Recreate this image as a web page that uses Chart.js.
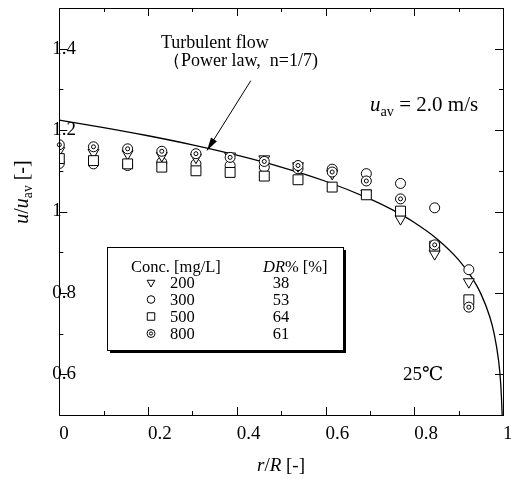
<!DOCTYPE html>
<html>
<head>
<meta charset="utf-8">
<script src="https://cdn.jsdelivr.net/npm/chart.js@4.4.1/dist/chart.umd.min.js"></script>
<style>
  html, body { margin: 0; padding: 0; background: #fff; }
  #wrap { width: 511px; height: 479px; }
</style>
</head>
<body>
<div id="wrap"><canvas id="chart" width="511" height="479"></canvas></div>
<script>
// radial positions r/R of the measuring points
const rPos = [0, 0.077, 0.154, 0.231, 0.308, 0.385, 0.462, 0.538, 0.615, 0.692, 0.769, 0.846, 0.923];
// u/uav for each concentration
const u200 = [1.150, 1.145, 1.142, 1.137, 1.133, 1.136, 1.129, 1.112, 1.093, 1.045, 0.982, 0.896, 0.827];
const u300 = [1.118, 1.117, 1.113, 1.121, 1.117, 1.113, 1.109, 1.105, 1.104, 1.093, 1.069, 1.009, 0.857];
const u500 = [1.130, 1.125, 1.117, 1.109, 1.100, 1.096, 1.087, 1.078, 1.060, 1.041, 1.001, 0.915, 0.783];
const u800 = [1.164, 1.159, 1.154, 1.148, 1.142, 1.133, 1.123, 1.113, 1.097, 1.075, 1.031, 0.918, 0.765];
// turbulent power law profile (n = 1/7)
const curveR = [0, 0.1, 0.2, 0.3, 0.4, 0.5, 0.6, 0.7, 0.75, 0.8, 0.85, 0.9, 0.93, 0.95, 0.97, 0.98, 0.99, 0.995, 0.998, 0.9985];
const curveU = [1.2245, 1.2062, 1.1861, 1.1637, 1.1383, 1.1091, 1.0743, 1.0310, 1.0045, 0.9730, 0.9338, 0.8813, 0.8375, 0.7982, 0.7420, 0.7002, 0.6342, 0.5745, 0.5040, 0.4837];
// legend table
const concLabels = ['200', '300', '500', '800'];
const drLabels = ['38', '53', '64', '61'];

const serif = '"Liberation Serif", "DejaVu Serif", serif';
const fnt = (size, italic) => (italic ? 'italic ' : '') + size + 'px ' + serif;

// marker shapes: the last one (800 mg/L) gets an inner ring drawn by the plugin
const markers = [
  { pointStyle: 'triangle', radius: 6.3, rotation: 180, small: 4.5 },
  { pointStyle: 'circle', radius: 5, rotation: 0, small: 3.8 },
  { pointStyle: 'rect', radius: 7, rotation: 0, small: 5.3 },
  { pointStyle: 'circle', radius: 5, rotation: 0, small: 4, inner: 2 }
];

const pts = ys => rPos.map((x, i) => ({ x, y: ys[i] }));

// text made of italic / plain / subscript pieces
function drawRich(ctx, parts, x, y, size, align) {
  let w = 0;
  const segs = parts.map(([t, s]) => {
    const sz = s === 's' ? size * 0.68 : size;
    ctx.font = fnt(sz, s === 'i');
    const m = ctx.measureText(t).width;
    w += m;
    return { t, s, sz, m };
  });
  let cx = align === 'center' ? x - w / 2 : align === 'right' ? x - w : x;
  ctx.textAlign = 'left';
  ctx.textBaseline = 'alphabetic';
  segs.forEach(seg => {
    ctx.font = fnt(seg.sz, seg.s === 'i');
    ctx.fillText(seg.t, cx, y + (seg.s === 's' ? size * 0.22 : 0));
    cx += seg.m;
  });
}

const isMajor = v => Math.round(v * 10) % 2 === 0;
const tickFmt = v => (isMajor(v) ? String(Math.round(v * 10) / 10) : '');

const decor = {
  id: 'decor',
  afterDatasetDraw(chart, args) {
    const ds = chart.data.datasets[args.index];
    if (!ds.innerRing) return;
    const ctx = chart.ctx;
    ctx.save();
    ctx.strokeStyle = '#000';
    ctx.lineWidth = 1;
    args.meta.data.forEach(el => {
      ctx.beginPath();
      ctx.arc(el.x, el.y, ds.innerRing, 0, Math.PI * 2);
      ctx.stroke();
    });
    ctx.restore();
  },
  afterDraw(chart) {
    const { ctx, chartArea: a, scales: { x, y } } = chart;
    ctx.save();
    ctx.strokeStyle = '#000';
    ctx.fillStyle = '#000';
    ctx.lineWidth = 1;

    // frame
    ctx.strokeRect(Math.round(a.left) + 0.5, Math.round(a.top) + 0.5,
      Math.round(a.right) - Math.round(a.left), Math.round(a.bottom) - Math.round(a.top));

    // inward ticks on all four sides
    ctx.beginPath();
    x.ticks.forEach(t => {
      const p = Math.round(x.getPixelForValue(t.value)) + 0.5;
      if (p < a.left + 2 || p > a.right - 2) return;
      const len = isMajor(t.value) ? 8 : 4;
      ctx.moveTo(p, a.bottom); ctx.lineTo(p, a.bottom - len);
      ctx.moveTo(p, a.top); ctx.lineTo(p, a.top + len);
    });
    y.ticks.forEach(t => {
      const p = Math.round(y.getPixelForValue(t.value)) + 0.5;
      if (p < a.top + 2 || p > a.bottom - 2) return;
      const len = isMajor(t.value) ? 8 : 4;
      ctx.moveTo(a.left, p); ctx.lineTo(a.left + len, p);
      ctx.moveTo(a.right, p); ctx.lineTo(a.right - len, p);
    });
    ctx.stroke();

    // axis titles
    drawRich(ctx, [['r', 'i'], ['/', ''], ['R', 'i'], [' [-]', '']], 281, 471, 19, 'center');
    ctx.save();
    ctx.translate(28, 192);
    ctx.rotate(-Math.PI / 2);
    drawRich(ctx, [['u', 'i'], ['/', ''], ['u', 'i'], ['av', 's'], [' [-]', '']], 0, 0, 20, 'center');
    ctx.restore();

    // annotations
    ctx.font = fnt(18);
    ctx.textAlign = 'left';
    ctx.textBaseline = 'alphabetic';
    ctx.fillText('Turbulent flow', 161, 48);
    ctx.fillText('（Power law,  n=1/7)', 163, 66);
    drawRich(ctx, [['u', 'i'], ['av', 's'], [' = 2.0 m/s', '']], 370, 111, 21, 'left');
    ctx.font = fnt(19);
    ctx.fillText('25℃', 403, 380);

    // arrow to the curve
    const tx = x.getPixelForValue(0.333), ty = y.getPixelForValue(1.15);
    const sx = x.getPixelForValue(0.4316), sy = y.getPixelForValue(1.3215);
    const ang = Math.atan2(ty - sy, tx - sx);
    ctx.beginPath(); ctx.moveTo(sx, sy); ctx.lineTo(tx, ty); ctx.stroke();
    ctx.beginPath();
    ctx.moveTo(tx, ty);
    ctx.lineTo(tx - 13 * Math.cos(ang) + 3.5 * Math.sin(ang), ty - 13 * Math.sin(ang) - 3.5 * Math.cos(ang));
    ctx.lineTo(tx - 13 * Math.cos(ang) - 3.5 * Math.sin(ang), ty - 13 * Math.sin(ang) + 3.5 * Math.cos(ang));
    ctx.closePath(); ctx.fill();

    // legend table
    const lx = 107, ly = 247, lw = 236, lh = 103;
    ctx.fillRect(lx + 3, ly + 3, lw, lh);
    ctx.fillStyle = '#fff';
    ctx.fillRect(lx, ly, lw, lh);
    ctx.strokeRect(lx + 0.5, ly + 0.5, lw, lh);
    ctx.fillStyle = '#000';
    ctx.font = fnt(16.5);
    ctx.fillText('Conc. [mg/L]', 131, 272);
    drawRich(ctx, [['DR', 'i'], ['% [%]', '']], 263, 272, 16.5, 'left');
    concLabels.forEach((lab, i) => {
      const by = 288 + i * 17;
      ctx.font = fnt(16.5);
      ctx.textAlign = 'left';
      ctx.fillText(lab, 170, by);
      ctx.textAlign = 'center';
      ctx.fillText(drLabels[i], 281, by);
      const m = markers[i];
      const cy = by - 5.5;
      ctx.fillStyle = '#fff';
      ctx.strokeStyle = '#000';
      ctx.lineWidth = 1;
      Chart.helpers.drawPoint(ctx, { pointStyle: m.pointStyle, radius: m.small, rotation: m.rotation, borderWidth: 1 }, 151, cy);
      if (m.inner) {
        ctx.beginPath();
        ctx.arc(151, cy, 1.6, 0, Math.PI * 2);
        ctx.stroke();
      }
      ctx.fillStyle = '#000';
    });
    ctx.restore();
  }
};

const pointSet = (label, data, m, order) => ({
  label,
  data: pts(data),
  pointStyle: m.pointStyle,
  pointRadius: m.radius,
  pointRotation: m.rotation,
  pointBackgroundColor: '#fff',
  pointBorderColor: '#000',
  pointBorderWidth: 1,
  innerRing: m.inner || 0,
  showLine: false,
  order
});

new Chart(document.getElementById('chart'), {
  type: 'scatter',
  data: {
    datasets: [
      {
        label: 'Power law',
        data: curveR.map((x, i) => ({ x, y: curveU[i] })),
        showLine: true,
        borderColor: '#000',
        borderWidth: 1.3,
        pointRadius: 0,
        cubicInterpolationMode: 'monotone',
        order: 10
      },
      pointSet('200', u200, markers[0], 2),
      pointSet('300', u300, markers[1], 3),
      pointSet('500', u500, markers[2], 1),
      pointSet('800', u800, markers[3], 0)
    ]
  },
  options: {
    responsive: false,
    animation: false,
    devicePixelRatio: 1,
    layout: { padding: { top: 7, right: 5, left: 0, bottom: 0 } },
    plugins: { legend: { display: false }, tooltip: { enabled: false } },
    scales: {
      x: {
        type: 'linear', min: 0, max: 1,
        afterFit(s) { s.height = 64; s.paddingLeft = 0; s.paddingRight = 0; },
        grid: { display: false },
        border: { display: false },
        ticks: {
          stepSize: 0.1, autoSkip: false, maxRotation: 0, align: 'start', padding: 0,
          color: '#000', font: { family: serif, size: 19 }, callback: tickFmt
        }
      },
      y: {
        type: 'linear', min: 0.5, max: 1.5,
        afterFit(s) { s.width = 59.3; s.paddingTop = 0; s.paddingBottom = 0; },
        grid: { display: false },
        border: { display: false },
        ticks: {
          stepSize: 0.1, autoSkip: false, mirror: true, padding: -7,
          color: '#000', font: { family: serif, size: 19 }, callback: tickFmt
        }
      }
    }
  },
  plugins: [decor]
});
</script>
</body>
</html>
